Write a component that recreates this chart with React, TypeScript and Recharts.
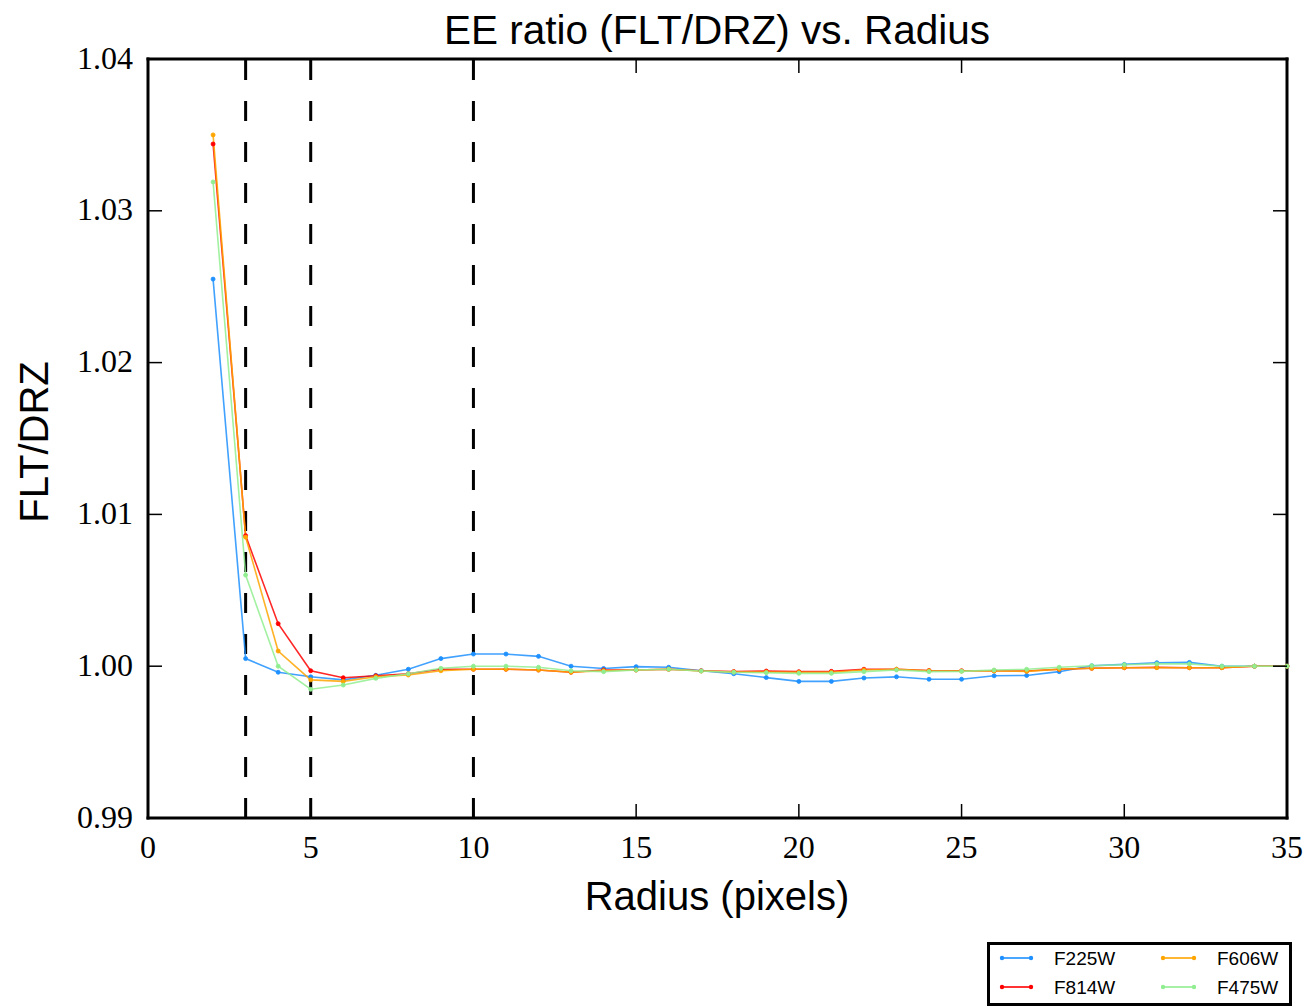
import React from 'react';
import { LineChart, Line, XAxis, YAxis, ReferenceLine } from 'recharts';

// ---- data ----
const radius = [2, 3, 4, 5, 6, 7, 8, 9, 10, 11, 12, 13, 14, 15, 16, 17, 18, 19, 20, 21, 22, 23, 24, 25, 26, 27, 28, 29, 30, 31, 32, 33, 34, 35];

const f225w = [1.0255, 1.0005, 0.9996, 0.9993, 0.9991, 0.9994, 0.9998, 1.0005, 1.0008, 1.0008, 1.00065, 1.0, 0.99985, 0.99997, 0.99993, 0.9997, 0.9995, 0.99925, 0.999, 0.9990, 0.99922, 0.9993, 0.99914, 0.99914, 0.99937, 0.99939, 0.99964, 1.00003, 1.00012, 1.00023, 1.00025, 1.0, 1.0, 1.0];
const f814w = [1.0344, 1.0086, 1.0028, 0.9997, 0.99924, 0.99937, 0.9995, 0.9998, 0.9998, 0.9998, 0.99975, 0.9996, 0.99975, 0.99975, 0.9998, 0.9997, 0.99965, 0.99968, 0.99964, 0.99966, 0.9998, 0.9998, 0.99972, 0.9997, 0.9997, 0.99968, 0.9998, 0.99986, 0.9999, 0.99992, 0.9999, 0.9999, 1.0, 1.0];
const f606w = [1.035, 1.0085, 1.001, 0.9991, 0.999, 0.9993, 0.99942, 0.9997, 0.9998, 0.9998, 0.99975, 0.9996, 0.9997, 0.99975, 0.9998, 0.99968, 0.99962, 0.99962, 0.9996, 0.9996, 0.99975, 0.9998, 0.9997, 0.99968, 0.99968, 0.99966, 0.9998, 0.99986, 0.9999, 0.9999, 0.9999, 0.9999, 1.0, 1.0];
const f475w = [1.0319, 1.006, 1.0, 0.99848, 0.99876, 0.9992, 0.9995, 0.99986, 1.0, 1.0, 0.99993, 0.9997, 0.99964, 0.99975, 0.9998, 0.99968, 0.9996, 0.99957, 0.99953, 0.99953, 0.99964, 0.99975, 0.99964, 0.99966, 0.99975, 0.9998, 0.99993, 1.00003, 1.0001, 1.00015, 1.00015, 1.0, 1.0, 1.0];

const seriesNames = ['F225W', 'F814W', 'F606W', 'F475W'];
const seriesValues = [f225w, f814w, f606w, f475w];
const seriesColors = ['#1E90FF', '#FF0000', '#FFA500', '#90EE90'];

const xTicks = [0, 5, 10, 15, 20, 25, 30, 35];
const yTicks = [0.99, 1.0, 1.01, 1.02, 1.03, 1.04];
const xDomain = [0, 35];
const yDomain = [0.99, 1.04];
const cutRadii = [3, 5, 10];

const titleText = 'EE ratio (FLT/DRZ) vs. Radius';
const xLabel = 'Radius (pixels)';
const yLabel = 'FLT/DRZ';

const data = radius.map((r, i) => {
  const row: Record<string, number> = { r };
  seriesNames.forEach((n, k) => {
    row[n] = seriesValues[k][i];
  });
  return row;
});

// ---- style ----
const TICK_LEN = 14;
const serif = '"Liberation Serif", "Times New Roman", serif';
const sans = '"Liberation Sans", Arial, Helvetica, sans-serif';
const frame = { stroke: '#000', strokeWidth: 3, strokeLinecap: 'square' as const };

const BottomTick = (props: any) => {
  const { x, y, payload } = props;
  return (
    <g>
      <line x1={x} y1={y} x2={x} y2={y - TICK_LEN} stroke="#000" strokeWidth={1.5} />
      <text x={x} y={y + 17} dy="0.71em" textAnchor="middle" fontFamily={serif} fontSize={32} fill="#000">
        {payload.value}
      </text>
    </g>
  );
};

const TopTick = (props: any) => {
  const { x, y } = props;
  return <line x1={x} y1={y} x2={x} y2={y + TICK_LEN} stroke="#000" strokeWidth={1.5} />;
};

const LeftTick = (props: any) => {
  const { x, y, payload } = props;
  return (
    <g>
      <line x1={x} y1={y} x2={x + TICK_LEN} y2={y} stroke="#000" strokeWidth={1.5} />
      <text x={x - 15} y={y} dy="0.3em" textAnchor="end" fontFamily={serif} fontSize={32} fill="#000">
        {Number(payload.value).toFixed(2)}
      </text>
    </g>
  );
};

const RightTick = (props: any) => {
  const { x, y } = props;
  return <line x1={x} y1={y} x2={x - TICK_LEN} y2={y} stroke="#000" strokeWidth={1.5} />;
};

const LegendBox = () => {
  const cols = [
    { lx1: 12, lx2: 41, tx: 64 },
    { lx1: 173, lx2: 204, tx: 227 },
  ];
  const rows = [13, 42];
  return (
    <div
      style={{
        position: 'absolute',
        left: 987,
        top: 942,
        width: 305,
        height: 64,
        border: '3px solid #000',
        boxSizing: 'border-box',
        background: '#fff',
      }}
    >
      <svg width={299} height={58} style={{ display: 'block' }}>
        {seriesNames.map((name, i) => {
          const c = cols[Math.floor(i / 2)];
          const ry = rows[i % 2];
          const color = seriesColors[i];
          return (
            <g key={name}>
              <line x1={c.lx1} y1={ry} x2={c.lx2} y2={ry} stroke={color} strokeWidth={1.6} />
              <circle cx={c.lx1} cy={ry} r={2.2} fill={color} />
              <circle cx={c.lx2} cy={ry} r={2.2} fill={color} />
              <text x={c.tx} y={ry} dy="0.36em" fontFamily={sans} fontSize={19} fill="#000">
                {name}
              </text>
            </g>
          );
        })}
      </svg>
    </div>
  );
};

export default function App() {
  return (
    <div style={{ position: 'absolute', left: 0, top: 0, width: 1307, height: 1007, background: '#fff' }}>
      <div
        style={{
          position: 'absolute',
          left: 317,
          top: 10,
          width: 800,
          textAlign: 'center',
          fontFamily: sans,
          fontSize: 40.5,
          lineHeight: '40px',
          color: '#000',
        }}
      >
        {titleText}
      </div>
      <LineChart width={1307} height={1007} data={data} margin={{ top: 58, right: 19, left: 0, bottom: 129 }}>
        <XAxis
          dataKey="r"
          type="number"
          domain={xDomain}
          ticks={xTicks}
          interval={0}
          tickSize={0}
          tickMargin={0}
          tickLine={false}
          tick={BottomTick}
          axisLine={frame}
          height={60}
          label={{
            content: () => (
              <text x={717} y={910} textAnchor="middle" fontFamily={sans} fontSize={40} fill="#000">
                {xLabel}
              </text>
            ),
          }}
        />
        <XAxis
          xAxisId="top"
          dataKey="r"
          orientation="top"
          type="number"
          domain={xDomain}
          ticks={xTicks}
          interval={0}
          tickSize={0}
          tickMargin={0}
          tickLine={false}
          tick={TopTick}
          axisLine={frame}
          height={1}
        />
        <YAxis
          type="number"
          domain={yDomain}
          ticks={yTicks}
          interval={0}
          tickSize={0}
          tickMargin={0}
          tickLine={false}
          tick={LeftTick}
          axisLine={frame}
          width={148}
          label={{
            content: () => (
              <text
                x={48}
                y={442}
                transform="rotate(-90 48 442)"
                textAnchor="middle"
                fontFamily={sans}
                fontSize={40}
                fill="#000"
              >
                {yLabel}
              </text>
            ),
          }}
        />
        <YAxis
          yAxisId="right"
          orientation="right"
          type="number"
          domain={yDomain}
          ticks={yTicks}
          interval={0}
          tickSize={0}
          tickMargin={0}
          tickLine={false}
          tick={RightTick}
          axisLine={frame}
          width={1}
        />
        {cutRadii.map((r) => (
          <ReferenceLine key={r} x={r} stroke="#000" strokeWidth={3} strokeDasharray="20 21" />
        ))}
        {seriesNames.map((name, i) => {
          const onFrameAxes = i === seriesNames.length - 1;
          return (
            <Line
              key={name}
              xAxisId={onFrameAxes ? 'top' : 0}
              yAxisId={onFrameAxes ? 'right' : 0}
              type="linear"
              dataKey={name}
              stroke={seriesColors[i]}
              strokeWidth={1.6}
              strokeOpacity={0.85}
              dot={{ r: 2, fill: seriesColors[i], stroke: seriesColors[i], strokeWidth: 1 }}
              activeDot={false}
              isAnimationActive={false}
            />
          );
        })}
      </LineChart>
      <LegendBox />
    </div>
  );
}
